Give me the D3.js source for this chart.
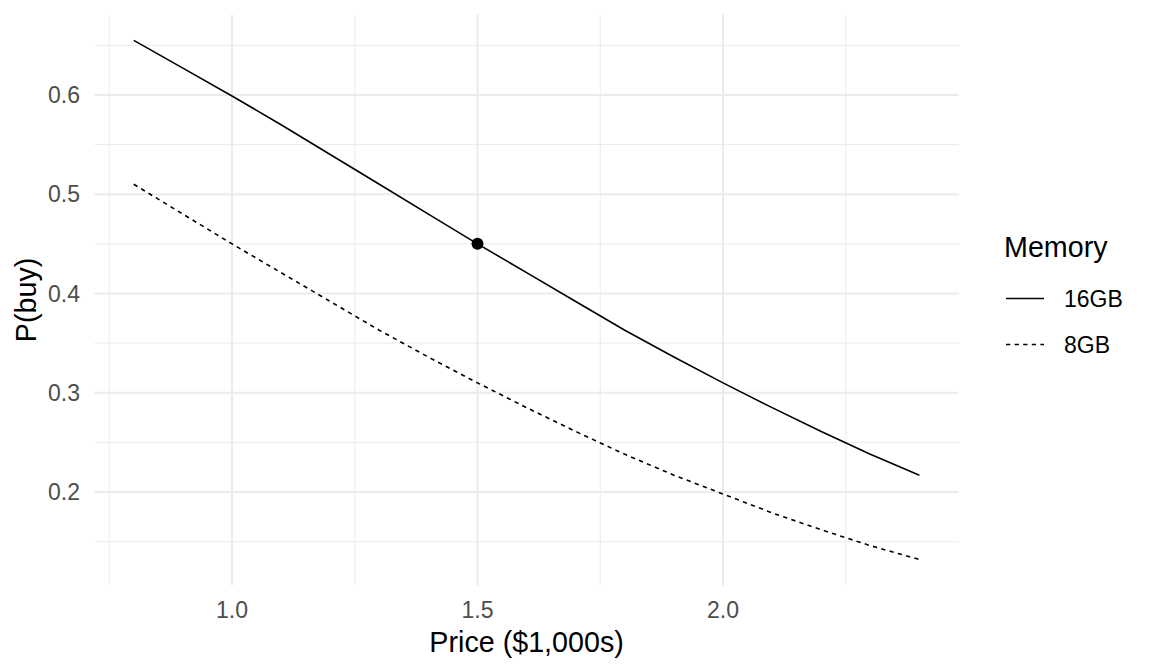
<!DOCTYPE html>
<html><head><meta charset="utf-8">
<script src="https://cdn.jsdelivr.net/npm/d3@7"></script>
<style>
html,body{margin:0;padding:0;background:#fff;}
svg{display:block;font-family:"Liberation Sans",Arial,sans-serif;}
</style></head>
<body>
<svg id="chart" width="1152" height="672"></svg>
<script>
// Data
const price = [0.8,0.9,1.0,1.1,1.2,1.3,1.4,1.5,1.6,1.7,1.8,1.9,2.0,2.1,2.2,2.3,2.4];
const p16GB = [0.655,0.627,0.599,0.570,0.540,0.510,0.480,0.450,0.421,0.392,0.363,0.336,0.310,0.285,0.261,0.238,0.217];
const p8GB  = [0.510,0.480,0.450,0.421,0.392,0.363,0.336,0.310,0.285,0.261,0.238,0.217,0.198,0.179,0.162,0.146,0.132];
const seriesNames = ["16GB","8GB"];
const highlight = {price:1.5, p:0.45};
const xTicks = [1.0,1.5,2.0];
const xMinor = [0.75,1.25,1.75,2.25];
const yTicks = [0.2,0.3,0.4,0.5,0.6];
const yMinor = [0.15,0.25,0.35,0.45,0.55,0.65];

const svg = d3.select("#chart");
const panel = {left:94.5, right:958.7, top:14.4, bottom:585.5};

const xExt = d3.extent(price);
const xPad = (xExt[1]-xExt[0])*0.05;
const allY = p16GB.concat(p8GB);
const yExt = d3.extent(allY);
const yPad = (yExt[1]-yExt[0])*0.05;

const x = d3.scaleLinear().domain([xExt[0]-xPad, xExt[1]+xPad]).range([panel.left, panel.right]);
const y = d3.scaleLinear().domain([yExt[0]-yPad, yExt[1]+yPad]).range([panel.bottom, panel.top]);

const grid = svg.append("g");
grid.selectAll(".xmin").data(xMinor).enter().append("line")
  .attr("x1",d=>x(d)).attr("x2",d=>x(d)).attr("y1",panel.top).attr("y2",panel.bottom)
  .attr("stroke","#ebebeb").attr("stroke-width",1);
grid.selectAll(".ymin").data(yMinor).enter().append("line")
  .attr("y1",d=>y(d)).attr("y2",d=>y(d)).attr("x1",panel.left).attr("x2",panel.right)
  .attr("stroke","#ebebeb").attr("stroke-width",1);
grid.selectAll(".xmaj").data(xTicks).enter().append("line")
  .attr("x1",d=>x(d)).attr("x2",d=>x(d)).attr("y1",panel.top).attr("y2",panel.bottom)
  .attr("stroke","#ebebeb").attr("stroke-width",2);
grid.selectAll(".ymaj").data(yTicks).enter().append("line")
  .attr("y1",d=>y(d)).attr("y2",d=>y(d)).attr("x1",panel.left).attr("x2",panel.right)
  .attr("stroke","#ebebeb").attr("stroke-width",2);

// tick labels
svg.append("g").selectAll("text").data(xTicks).enter().append("text")
  .attr("x",d=>x(d)).attr("y",618).attr("text-anchor","middle")
  .attr("font-size",23).attr("fill","#4d4d4d").text(d=>d3.format(".1f")(d));
svg.append("g").selectAll("text").data(yTicks).enter().append("text")
  .attr("x",80).attr("y",d=>y(d)+8.2).attr("text-anchor","end")
  .attr("font-size",23).attr("fill","#4d4d4d").text(d=>d3.format(".1f")(d));

// axis titles
svg.append("text").attr("x",(panel.left+panel.right)/2).attr("y",652)
  .attr("text-anchor","middle").attr("font-size",28.7).attr("fill","#000").text("Price ($1,000s)");
svg.append("text").attr("transform",`translate(36,${(panel.top+panel.bottom)/2}) rotate(-90)`)
  .attr("text-anchor","middle").attr("font-size",28.7).attr("fill","#000").text("P(buy)");

// lines
const line = d3.line().x(d=>x(d[0])).y(d=>y(d[1]));
const dashes = ["none","4.3,4.3"];
[p16GB,p8GB].forEach((vals,i)=>{
  svg.append("path").datum(price.map((p,j)=>[p,vals[j]]))
    .attr("d",line).attr("fill","none").attr("stroke","#000")
    .attr("stroke-width",1.6).attr("stroke-dasharray",dashes[i]);
});

svg.append("circle").attr("cx",x(highlight.price)).attr("cy",y(highlight.p))
  .attr("r",6).attr("fill","#000");

// legend
const lg = svg.append("g");
lg.append("text").attr("x",1004).attr("y",257).attr("font-size",28.7).attr("fill","#000").text("Memory");
const keyY = [298.5, 344.5];
seriesNames.forEach((n,i)=>{
  lg.append("line").attr("x1",1006).attr("x2",1044).attr("y1",keyY[i]).attr("y2",keyY[i])
    .attr("stroke","#000").attr("stroke-width",1.6).attr("stroke-dasharray",dashes[i]);
  lg.append("text").attr("x",1064).attr("y",keyY[i]+8.7).attr("font-size",23).attr("fill","#000").text(n);
});
</script>
</body></html>
